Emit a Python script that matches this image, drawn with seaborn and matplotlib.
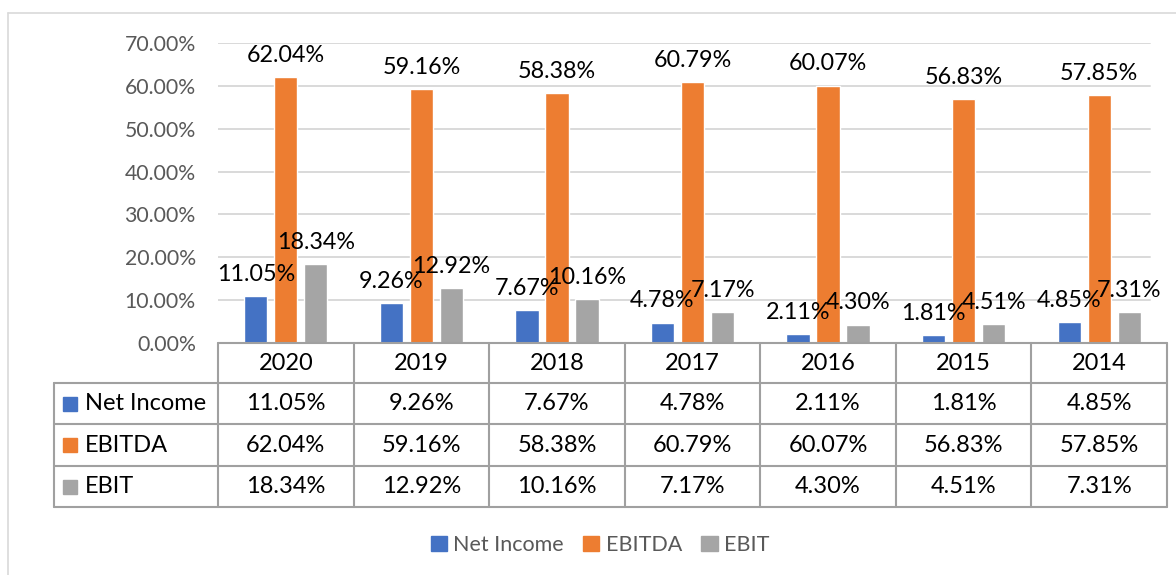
import pandas as pd
import seaborn as sns
import matplotlib.pyplot as plt
from matplotlib.lines import Line2D
from matplotlib.patches import Rectangle

# dados
anos = ['2020', '2019', '2018', '2017', '2016', '2015', '2014']
net_income = [11.05, 9.26, 7.67, 4.78, 2.11, 1.81, 4.85]
ebitda = [62.04, 59.16, 58.38, 60.79, 60.07, 56.83, 57.85]
ebit = [18.34, 12.92, 10.16, 7.17, 4.30, 4.51, 7.31]
series = ['Net Income', 'EBITDA', 'EBIT']
cores = ['#4472C4', '#ED7D31', '#A5A5A5']
y_ticks = [0, 10, 20, 30, 40, 50, 60, 70]

valores = {'Net Income': net_income, 'EBITDA': ebitda, 'EBIT': ebit}
dados = pd.DataFrame([(a, s, valores[s][i]) for s in series for i, a in enumerate(anos)],
                     columns=['ano', 'serie', 'valor'])

sns.set_style('white')
plt.rcParams['font.family'] = ['Lato', 'DejaVu Sans']

W, H = 1176, 575
fig = plt.figure(figsize=(W / 100, H / 100), dpi=100)


def fx(px):
    return px / W


def fy(py):
    return 1 - py / H


x0, x1, y_top, y_zero = 218, 1167, 43, 343
ax = fig.add_axes([fx(x0), fy(y_zero), fx(x1) - fx(x0), fy(y_top) - fy(y_zero)])

sns.barplot(data=dados, x='ano', y='valor', hue='serie', order=anos, hue_order=series,
            palette=cores, width=0.664, gap=0.22, saturation=1, ax=ax, legend=False)

for cont, s in zip(ax.containers, series):
    ax.bar_label(cont, labels=[f'{v:.2f}%' for v in valores[s]], padding=8,
                 fontsize=16.8, color='black', zorder=5)

ax.set_xlim(-0.5, len(anos) - 0.5)
ax.set_ylim(0, 70)
ax.set_yticks(y_ticks)
ax.set_yticklabels([f'{v:.2f}%' for v in y_ticks], fontsize=15.3, color='#595959')
ax.tick_params(axis='y', length=0, pad=16)
ax.set_xticks([])
ax.set_xlabel('')
ax.set_ylabel('')
for sp in ax.spines.values():
    sp.set_visible(False)
for v in y_ticks[1:]:
    ax.axhline(v, xmin=0, xmax=(1150 - x0) / (x1 - x0), color='#d9d9d9', lw=1.4, zorder=0)
ax.set_axisbelow(True)
ax.patch.set_alpha(0)

# moldura do gráfico
fig.add_artist(Line2D([fx(8), fx(8)], [fy(13), fy(580)], color='#d9d9d9', lw=1.2))
fig.add_artist(Line2D([fx(8), fx(1180)], [fy(13), fy(13)], color='#d9d9d9', lw=1.2))

# tabela de dados
cor_linha = '#a0a0a0'
col_w = (x1 - x0) / len(anos)
linhas_y = [343, 383, 424, 466, 507]


def linha(xa, xb, ya, yb):
    fig.add_artist(Line2D([fx(xa), fx(xb)], [fy(ya), fy(yb)], color=cor_linha, lw=1.5))


linha(x0, x1, 343, 343)
for yy in linhas_y[1:]:
    linha(54, x1, yy, yy)
linha(54, 54, 383, 507)
for i in range(len(anos) + 1):
    linha(x0 + i * col_w, x0 + i * col_w, 343, 507)

for i, a in enumerate(anos):
    fig.text(fx(x0 + (i + 0.5) * col_w), fy(363), a, ha='center', va='center',
             fontsize=17, color='black')
for r, s in enumerate(series):
    yc = (linhas_y[r + 1] + linhas_y[r + 2]) / 2
    fig.add_artist(Rectangle((fx(63), fy(yc + 7)), fx(14), fy(yc - 7) - fy(yc + 7),
                             color=cores[r], transform=fig.transFigure))
    fig.text(fx(85), fy(yc), s, ha='left', va='center', fontsize=17, color='black')
    for i, v in enumerate(valores[s]):
        fig.text(fx(x0 + (i + 0.5) * col_w), fy(yc), f'{v:.2f}%', ha='center', va='center',
                 fontsize=17, color='black')

# legenda
handles = [Rectangle((0, 0), 1, 1, color=c) for c in cores]
fig.legend(handles, series, loc='center', bbox_to_anchor=(fx(600), fy(545)), ncol=3,
           frameon=False, fontsize=15.5, labelcolor='#595959', handlelength=0.75,
           handleheight=0.75, handletextpad=0.3, columnspacing=0.9)

fig.savefig('out.png', dpi=100)
